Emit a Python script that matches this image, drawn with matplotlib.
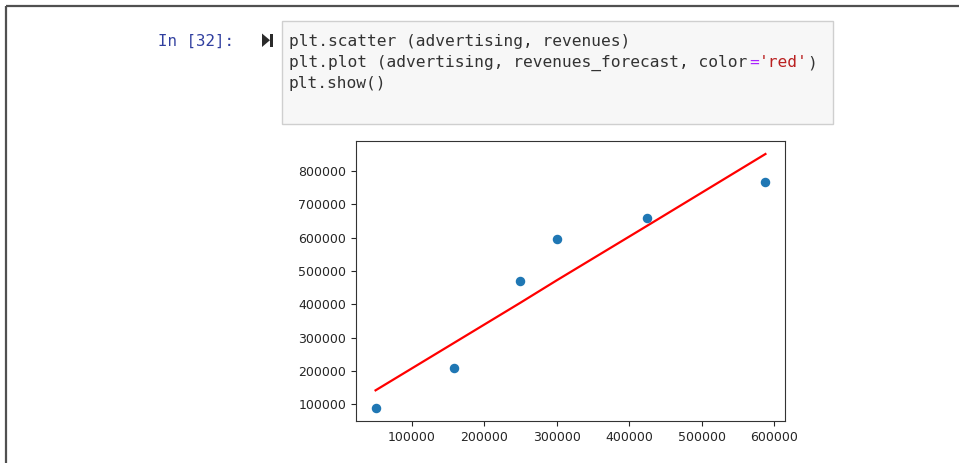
import numpy as np
import matplotlib
matplotlib.use("Agg")
import matplotlib.pyplot as plt
from matplotlib.patches import Rectangle, Polygon

# Data
advertising = [50000, 158000, 250000, 300000, 425000, 588000]
revenues = [88000, 208000, 470000, 597000, 658000, 766000]
revenues_forecast = [142000, 284000, 405000, 472000, 636000, 851000]

x_ticks = [100000, 200000, 300000, 400000, 500000, 600000]
y_ticks = [100000, 200000, 300000, 400000, 500000, 600000, 700000, 800000]

code_lines = [
    [("plt.scatter (advertising, revenues)", "#333333")],
    [("plt.plot (advertising, revenues_forecast, color", "#333333"),
     ("=", "#aa22ff"), ("'red'", "#ba2121"), (")", "#333333")],
    [("plt.show()", "#333333")],
]

W, H = 959, 463
fig = plt.figure(figsize=(W / 100, H / 100), dpi=100)

# page layer in pixel coordinates
bg = fig.add_axes([0, 0, 1, 1])
bg.set_xlim(0, W)
bg.set_ylim(H, 0)
bg.axis("off")

bg.plot([6, W], [6, 6], color="#505050", lw=1.6, solid_capstyle="butt")
bg.plot([6, 6], [6, H], color="#505050", lw=1.6, solid_capstyle="butt")

bg.add_patch(Rectangle((282, 21), 551, 103, facecolor="#f7f7f7",
                       edgecolor="#cfcfcf", lw=1))

mono = "DejaVu Sans Mono"
fs = 11.7
char_w = fs * 100 / 72 * 0.602

bg.text(158, 46, "In [32]:", family=mono, fontsize=fs * 0.98,
        color="#303f9f", va="baseline")

# run icon
bg.add_patch(Polygon([[262, 33.5], [262, 47], [270, 40.2]], closed=True,
                     facecolor="#2b2b2b", edgecolor="none"))
bg.add_patch(Rectangle((270, 33.5), 3, 13.5, facecolor="#2b2b2b",
                       edgecolor="none"))

for i, segs in enumerate(code_lines):
    x0 = 289
    y0 = 46 + i * 21.2
    for txt, col in segs:
        bg.text(x0, y0, txt, family=mono, fontsize=fs, color=col,
                va="baseline")
        x0 += len(txt) * char_w

# chart
ax = fig.add_axes([356 / W, (H - 421) / H, (785 - 356) / W, (421 - 141) / H])
ax.scatter(advertising, revenues, s=34, color="#1f77b4", zorder=3)
ax.plot(advertising, revenues_forecast, color="red", lw=1.6)
ax.set_xlim(23000, 615000)
ax.set_ylim(50000, 890000)
ax.set_xticks(x_ticks)
ax.set_yticks(y_ticks)
ax.tick_params(labelsize=9, colors="#262626", length=3.5)
for sp in ax.spines.values():
    sp.set_color("#333333")

fig.savefig("out.png", dpi=100)
